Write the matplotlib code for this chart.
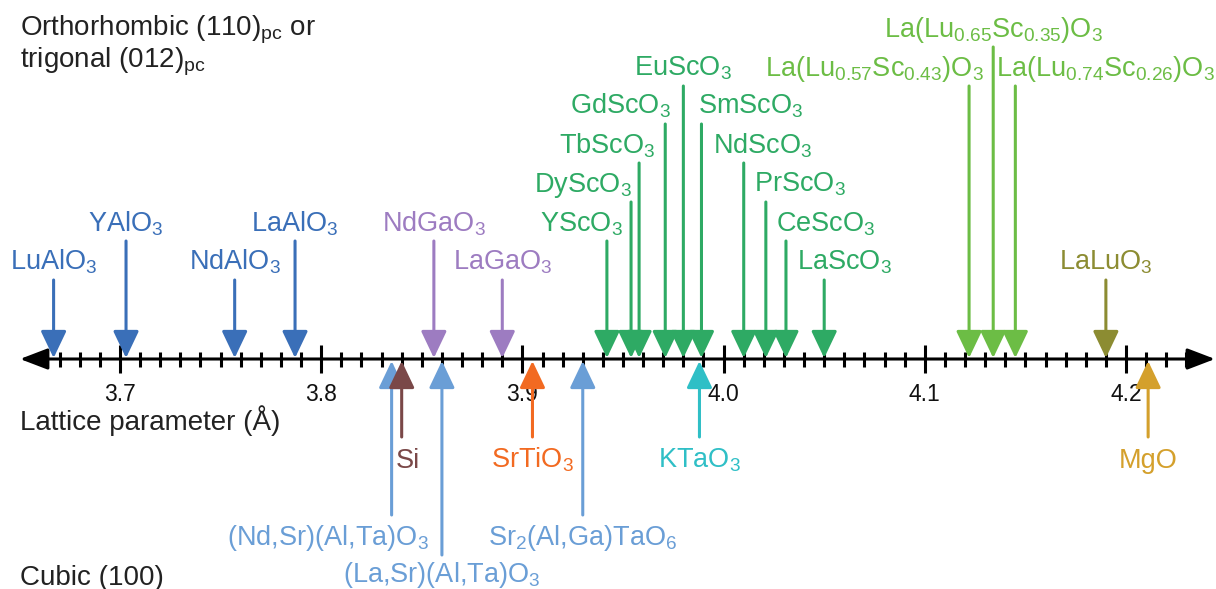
import numpy as np
import matplotlib
matplotlib.use('Agg')
import matplotlib.pyplot as plt

plt.rcParams['font.family'] = ['Liberation Sans', 'DejaVu Sans']
plt.rcParams['mathtext.fontset'] = 'custom'
plt.rcParams['mathtext.rm'] = 'Liberation Sans'
plt.rcParams['mathtext.it'] = 'Liberation Sans:italic'
plt.rcParams['mathtext.default'] = 'regular'

# substrates above the axis: orthorhombic (110)pc / trigonal (012)pc
top_names = ['LuAlO$_3$', 'YAlO$_3$', 'NdAlO$_3$', 'LaAlO$_3$',
             'NdGaO$_3$', 'LaGaO$_3$',
             'YScO$_3$', 'DyScO$_3$', 'TbScO$_3$', 'GdScO$_3$', 'EuScO$_3$',
             'SmScO$_3$', 'NdScO$_3$', 'PrScO$_3$', 'CeScO$_3$', 'LaScO$_3$',
             'La(Lu$_{0.57}$Sc$_{0.43}$)O$_3$', 'La(Lu$_{0.65}$Sc$_{0.35}$)O$_3$',
             'La(Lu$_{0.74}$Sc$_{0.26}$)O$_3$', 'LaLuO$_3$']
top_values = [3.667, 3.703, 3.757, 3.787,
              3.856, 3.890,
              3.942, 3.954, 3.958, 3.971, 3.980,
              3.989, 4.010, 4.021, 4.031, 4.050,
              4.122, 4.134, 4.145, 4.190]
top_groups = ['aluminate'] * 4 + ['gallate'] * 2 + ['scandate'] * 10 + ['lusc'] * 3 + ['lutetate']

# substrates below the axis: cubic (100)
bottom_names = ['(Nd,Sr)(Al,Ta)O$_3$', 'Si', '(La,Sr)(Al,Ta)O$_3$', 'SrTiO$_3$',
                'Sr$_2$(Al,Ga)TaO$_6$', 'KTaO$_3$', 'MgO']
bottom_values = [3.835, 3.840, 3.860, 3.905, 3.930, 3.988, 4.211]
bottom_groups = ['cubic_ox', 'si', 'cubic_ox', 'sto', 'cubic_ox', 'kto', 'mgo']

colors = {'aluminate': '#3a6fb8', 'gallate': '#9d7cc1', 'scandate': '#2eaa64',
          'lusc': '#6cbd45', 'lutetate': '#8c8c32', 'cubic_ox': '#6a9ed6',
          'si': '#7a4848', 'sto': '#f26a21', 'kto': '#2fbfc6', 'mgo': '#d4a02c'}

# layout (pixel rows, label offsets in px)
W, H = 1216, 589
xmin, xmax = 3.64036, 4.24473
PX = W / (xmax - xmin)
axis_y = 359
top_row_base = [270, 231, 192, 153, 114, 76, 37]
top_rows = [0, 1, 0, 1, 1, 0, 1, 2, 3, 4, 5, 4, 3, 2, 1, 0, 5, 6, 5, 0]
top_dx = [0, 0, 0, 0, 0, 0, -25, -48, -32, -45, 0, 49, 19, 34, 40, 20, -95, 0, 90, 0]
bot_row_base = [468, 545, 582]
bot_row_tail = [437, 515, 555]
bot_rows = [1, 0, 2, 0, 1, 0, 0]
bot_dx = [-64, 6, 0, 0, 0, 0, 0]

fs = 19.5
lw = 2.2

fig = plt.figure(figsize=(W / 100, H / 100), dpi=100)
ax = fig.add_axes([0, 0, 1, 1])
ax.set_xlim(xmin, xmax)
ax.set_ylim(H, 0)
ax.axis('off')


def arrow(x, y0, y1, c):
    ax.annotate('', xy=(x, y1), xytext=(x, y0),
                arrowprops=dict(arrowstyle='-|>,head_length=1.66,head_width=0.79',
                                mutation_scale=10, lw=lw, color=c,
                                shrinkA=0, shrinkB=0))


# number line with arrow heads on both ends
ax.annotate('', xy=(xmin + 20 / PX, axis_y), xytext=(xmax - 1 / PX, axis_y),
            arrowprops=dict(arrowstyle='<|-|>,head_length=1.7,head_width=0.65',
                            mutation_scale=10, lw=lw, color='black',
                            shrinkA=0, shrinkB=0))
ticks = np.arange(367, 424) / 100
for t in ticks:
    major = round(t * 100) % 10 == 0
    h = 14 if major else 7.5
    ax.plot([t, t], [axis_y - h, axis_y + h], color='black', lw=lw,
            solid_capstyle='butt')
    if major:
        ax.text(t, 401, f'{t:.1f}', ha='center', va='baseline', fontsize=16.5,
                color='#111111')

for name, val, grp, r, dx in zip(top_names, top_values, top_groups, top_rows, top_dx):
    c = colors[grp]
    base = top_row_base[r]
    arrow(val, base + 10, axis_y - 1, c)
    ax.text(val + dx / PX, base, name, ha='center', va='baseline',
            fontsize=fs, color=c)

for name, val, grp, r, dx in zip(bottom_names, bottom_values, bottom_groups, bot_rows, bot_dx):
    c = colors[grp]
    arrow(val, bot_row_tail[r], axis_y + 2, c)
    ax.text(val + dx / PX, bot_row_base[r], name, ha='center', va='baseline',
            fontsize=fs, color=c)

tx = xmin + 20 / PX
ax.text(tx, 35, 'Orthorhombic (110)$_{pc}$ or', fontsize=20, va='baseline', color='#222222')
ax.text(tx, 68, 'trigonal (012)$_{pc}$', fontsize=20, va='baseline', color='#222222')
ax.text(tx, 430, 'Lattice parameter (Å)', fontsize=20, va='baseline', color='#222222')
ax.text(tx, 585, 'Cubic (100)', fontsize=20, va='baseline', color='#222222')

fig.savefig('out.png', dpi=100)
